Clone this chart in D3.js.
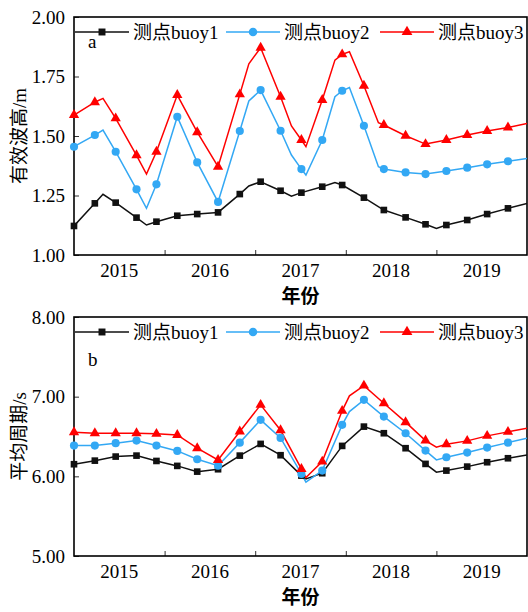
<!DOCTYPE html>
<html><head><meta charset="utf-8">
<script src="https://cdn.jsdelivr.net/npm/d3@7"></script>
<style>
body{margin:0;background:#fff} svg{display:block}
svg text{font-family:"Liberation Serif","Times New Roman",Times,"Noto Sans CJK SC",serif;}
</style>
</head><body><svg id="c" width="528" height="612"></svg>
<script>
// ---------------- data ----------------
const yearLabels = ["2015", "2016", "2017", "2018", "2019"];
const seriesNames = ["测点buoy1", "测点buoy2", "测点buoy3"];

// time positions (fractional years) of all line vertices
const xYears = [2015.00, 2015.23, 2015.32, 2015.46, 2015.69, 2015.80, 2015.91, 2016.14, 2016.36, 2016.59,
                2016.83, 2016.93, 2017.06, 2017.28, 2017.40, 2017.51, 2017.56, 2017.74, 2017.88, 2017.96,
                2018.04, 2018.20, 2018.36, 2018.42, 2018.66, 2018.88, 2019.00, 2019.11, 2019.34, 2019.56,
                2019.79, 2020.00];
// whether a marker symbol is drawn at that vertex
const isMarker = [1,1,0,1,1,0,1,1,1,1, 1,0,1,1,0,1,0,1,0,1, 0,1,0,1,1,1,0,1,1,1, 1,0];

// (a) significant wave height, m
const hsBuoy1 = [1.122,1.217,1.255,1.220,1.157,1.126,1.140,1.165,1.172,1.179, 1.256,1.290,1.308,1.270,1.247,1.262,null,1.287,1.304,1.294,
                 null,1.241,null,1.189,1.158,1.129,1.112,1.126,1.147,1.172, 1.196,1.217];
const hsBuoy2 = [1.455,1.504,1.525,1.434,1.276,1.196,1.297,1.581,1.389,1.223, 1.521,1.647,1.693,1.522,1.420,1.361,1.336,1.483,1.665,1.690,
                 1.704,1.543,1.371,1.361,1.347,1.340,null,1.353,1.367,1.381, 1.394,1.405];
const hsBuoy3 = [1.588,1.642,1.658,1.574,1.419,1.340,1.434,1.672,1.516,1.371, 1.675,1.803,1.871,1.665,1.542,1.483,1.455,1.651,1.819,1.843,
                 1.854,1.711,1.556,1.546,1.501,1.466,null,1.483,1.504,1.521, 1.536,1.553];

// (b) mean period, s
const tmBuoy1 = [6.152,6.197,null,6.248,6.260,null,6.193,6.131,6.059,6.089, 6.260,null,6.407,6.265,null,6.009,5.967,6.039,null,6.382,
                 null,6.624,null,6.541,6.353,6.156,6.052,6.072,6.122,6.177, 6.227,6.269];
const tmBuoy2 = [6.386,6.386,null,6.416,6.449,null,6.386,6.319,6.215,6.134, 6.423,null,6.709,6.482,null,6.030,5.926,6.072,null,6.646,
                 6.813,6.960,null,6.750,6.541,6.323,6.206,6.240,6.298,6.361, 6.423,6.478];
const tmBuoy3 = [6.554,6.541,null,6.541,6.541,null,6.533,6.520,6.353,6.206, 6.562,null,6.897,6.578,null,6.093,5.984,6.185,null,6.822,
                 7.010,7.139,null,6.918,6.680,6.449,6.366,6.403,6.445,6.508, 6.558,6.604];

const hsTicks = [1.00, 1.25, 1.50, 1.75, 2.00];
const tmTicks = [5.00, 6.00, 7.00, 8.00];

// ---------------- style / layout ----------------
const colors = ["#111111", "#33a8f4", "#ff0000"];
const symbols = [d3.symbolSquare, d3.symbolCircle, d3.symbolTriangle];
const symSizes = [44, 52, 46];

const svg = d3.select("#c");
const L = 74, R = 527;

const panels = [
  { top: 17, bottom: 255, domain: [1, 2], ticks: hsTicks, fmt: d3.format(".2f"),
    series: [hsBuoy1, hsBuoy2, hsBuoy3], title: "有效波高/m", tag: "a" },
  { top: 317, bottom: 556, domain: [5, 8], ticks: tmTicks, fmt: d3.format(".2f"),
    series: [tmBuoy1, tmBuoy2, tmBuoy3], title: "平均周期/s", tag: "b" }
];

const x = d3.scaleLinear().domain([2015, 2020]).range([L, R]);

panels.forEach((p, pi) => {
  const y = d3.scaleLinear().domain(p.domain).range([p.bottom, p.top]);
  const g = svg.append("g");

  const clipId = "clip" + pi;
  svg.append("clipPath").attr("id", clipId)
    .append("rect").attr("x", L).attr("y", p.top).attr("width", R - L).attr("height", p.bottom - p.top);

  // x axis (ticks at year boundaries, inward)
  const xAxis = d3.axisBottom(x).tickValues([2016, 2017, 2018, 2019]).tickSize(-5).tickFormat("");
  const gx = g.append("g").attr("transform", `translate(0,${p.bottom})`).call(xAxis);
  gx.attr("font-family", null);
  gx.select(".domain").remove();
  gx.selectAll(".tick line").attr("stroke", "#333").attr("stroke-width", 1);

  // year labels centered in each year band
  g.selectAll(".yl").data(yearLabels).join("text")
    .attr("x", d => x(+d + 0.5)).attr("y", p.bottom + 22)
    .attr("text-anchor", "middle").attr("font-size", 19)
    .text(d => d);

  // y axis
  const yAxis = d3.axisLeft(y).tickValues(p.ticks).tickSize(-5).tickPadding(9).tickFormat(p.fmt);
  const gy = g.append("g").attr("transform", `translate(${L},0)`).call(yAxis);
  gy.attr("font-family", null).attr("font-size", null);
  gy.select(".domain").remove();
  gy.selectAll(".tick line").attr("stroke", "#333").attr("stroke-width", 1);
  gy.selectAll(".tick text").attr("font-size", 19).attr("fill", "#000");

  // frame
  g.append("rect").attr("x", L).attr("y", p.top).attr("width", R - L).attr("height", p.bottom - p.top)
    .attr("fill", "none").attr("stroke", "#000").attr("stroke-width", 1.6);

  // titles
  g.append("text").attr("transform", `translate(19,${(p.top + p.bottom) / 2}) rotate(-90)`)
    .attr("text-anchor", "middle").attr("dominant-baseline", "central")
    .attr("font-size", 19).text(p.title);
  g.append("text").attr("x", (L + R) / 2).attr("y", p.bottom + 48)
    .attr("text-anchor", "middle").attr("font-size", 19)
    .attr("font-weight", "bold").text("年份");

  // tag
  g.append("text").attr("x", 88).attr("y", p.top + (pi === 0 ? 31 : 49))
    .attr("font-size", 19).text(p.tag);

  // series
  const plot = g.append("g").attr("clip-path", `url(#${clipId})`);
  p.series.forEach((vals, si) => {
    const pts = xYears.map((t, i) => ({ t, v: vals[i], m: isMarker[i] })).filter(d => d.v !== null);
    plot.append("path").datum(pts)
      .attr("d", d3.line().x(d => x(d.t)).y(d => y(d.v)))
      .attr("fill", "none").attr("stroke", colors[si]).attr("stroke-width", 1.5);
  });
  p.series.forEach((vals, si) => {
    const pts = xYears.map((t, i) => ({ t, v: vals[i], m: isMarker[i] })).filter(d => d.v !== null && d.m);
    g.selectAll(null).data(pts).join("path")
      .attr("transform", d => `translate(${x(d.t)},${y(d.v)})`)
      .attr("d", d3.symbol(symbols[si], symSizes[si]))
      .attr("fill", colors[si]);
  });

  // legend
  const legY = p.top + 15;
  const legX = [75, 226, 380];
  seriesNames.forEach((name, si) => {
    const lg = g.append("g").attr("transform", `translate(${legX[si]},${legY})`);
    lg.append("line").attr("x1", 0).attr("x2", 54).attr("stroke", colors[si]).attr("stroke-width", 1.5);
    lg.append("path").attr("transform", "translate(27,0)").attr("d", d3.symbol(symbols[si], symSizes[si] * 1.1)).attr("fill", colors[si]);
    lg.append("text").attr("x", 58).attr("y", 0).attr("dominant-baseline", "central")
      .attr("font-size", 19).text(name);
  });
});
</script></body></html>
